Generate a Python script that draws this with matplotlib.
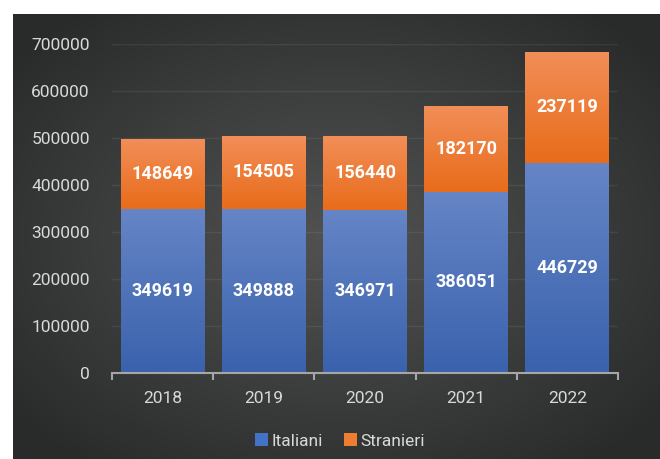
import matplotlib.pyplot as plt
import matplotlib.patches as mpatches
import numpy as np

plt.rcParams['font.family'] = ['Roboto', 'DejaVu Sans']

years = ['2018', '2019', '2020', '2021', '2022']
italiani = [349619, 349888, 346971, 386051, 446729]
stranieri = [148649, 154505, 156440, 182170, 237119]
yticks = [0, 100000, 200000, 300000, 400000, 500000, 600000, 700000]

W, H = 660, 459
fig = plt.figure(figsize=(W / 100, H / 100), dpi=100)
fig.patch.set_facecolor('white')

# dark radial background panel
bg = fig.add_axes([13 / W, 0, 1 - 13 / W, 1 - 14 / H])
bg.set_axis_off()
gx, gy = np.meshgrid(np.linspace(-1, 1, 400), np.linspace(-1, 1, 300))
r = np.clip(np.sqrt(gx**2 + gy**2) / 1.3, 0, 1)
inner = np.array([0x52, 0x52, 0x52]) / 255
outer = np.array([0x29, 0x2b, 0x2b]) / 255
img = inner[None, None, :] * (1 - r[..., None]) + outer[None, None, :] * r[..., None]
bg.imshow(img, aspect='auto', extent=[0, 1, 0, 1], interpolation='bilinear')
bg.set_xlim(0, 1)
bg.set_ylim(0, 1)

ax = fig.add_axes([112 / W, (H - 373) / H, 506 / W, 329 / H])
ax.patch.set_alpha(0)

x = np.arange(len(years))
bw = 0.83


def grad_bar(x0, bottom, height, top_col, bot_col):
    rect = mpatches.Rectangle((x0 - bw / 2, bottom), bw, height, facecolor='none',
                              edgecolor='none')
    ax.add_patch(rect)
    t = np.linspace(0, 1, 100)[:, None]
    a = np.array(top_col)
    b = np.array(bot_col)
    g = a[None, None, :] * (1 - t[..., None]) + b[None, None, :] * t[..., None]
    g = np.repeat(g, 2, axis=1)
    im = ax.imshow(g, aspect='auto', extent=[x0 - bw / 2, x0 + bw / 2, bottom, bottom + height],
                   interpolation='bilinear', zorder=2)
    im.set_clip_path(rect)


blue_top = np.array([0x65, 0x85, 0xc6]) / 255
blue_bot = np.array([0x3a, 0x62, 0xad]) / 255
org_top = np.array([0xf2, 0x8e, 0x58]) / 255
org_bot = np.array([0xe8, 0x6c, 0x1a]) / 255

for i in range(len(years)):
    grad_bar(x[i], 0, italiani[i], blue_top, blue_bot)
    grad_bar(x[i], italiani[i], stranieri[i], org_top, org_bot)
    ax.text(x[i], italiani[i] / 2, str(italiani[i]), ha='center', va='center',
            color='white', fontsize=13, fontweight='bold', zorder=3)
    ax.text(x[i], italiani[i] + stranieri[i] / 2, str(stranieri[i]), ha='center', va='center',
            color='white', fontsize=13, fontweight='bold', zorder=3)

ax.set_xlim(-0.5, len(years) - 0.5)
ax.set_ylim(0, 700000)
ax.set_yticks(yticks)
ax.set_yticklabels([str(v) for v in yticks])
ax.set_xticks(x)
ax.set_xticklabels(years)
ax.set_xticks(np.arange(-0.5, len(years)), minor=True)
ax.tick_params(axis='x', which='major', length=0, pad=13, labelsize=12.5, colors='#d9d9d9')
ax.tick_params(axis='x', which='minor', length=5, width=1.5, color='#a6a6a6')
ax.tick_params(axis='y', length=0, pad=16, labelsize=12.5, colors='#d9d9d9')
ax.grid(axis='y', color='white', alpha=0.07, linewidth=1, zorder=0)
ax.set_axisbelow(True)
for s in ['top', 'right', 'left']:
    ax.spines[s].set_visible(False)
ax.spines['bottom'].set_color('#a6a6a6')
ax.spines['bottom'].set_linewidth(1.5)
ax.spines['bottom'].set_zorder(4)

handles = [mpatches.Patch(facecolor='#4472c4', label='Italiani'),
           mpatches.Patch(facecolor='#ed7d31', label='Stranieri')]
fig.legend(handles=handles, loc='center', bbox_to_anchor=(340 / W, 1 - 441 / H), ncol=2,
           frameon=False, fontsize=12.5, labelcolor='#d9d9d9', handlelength=0.75,
           handleheight=0.75, handletextpad=0.2, columnspacing=1.2)

fig.savefig('out.png', dpi=100)
